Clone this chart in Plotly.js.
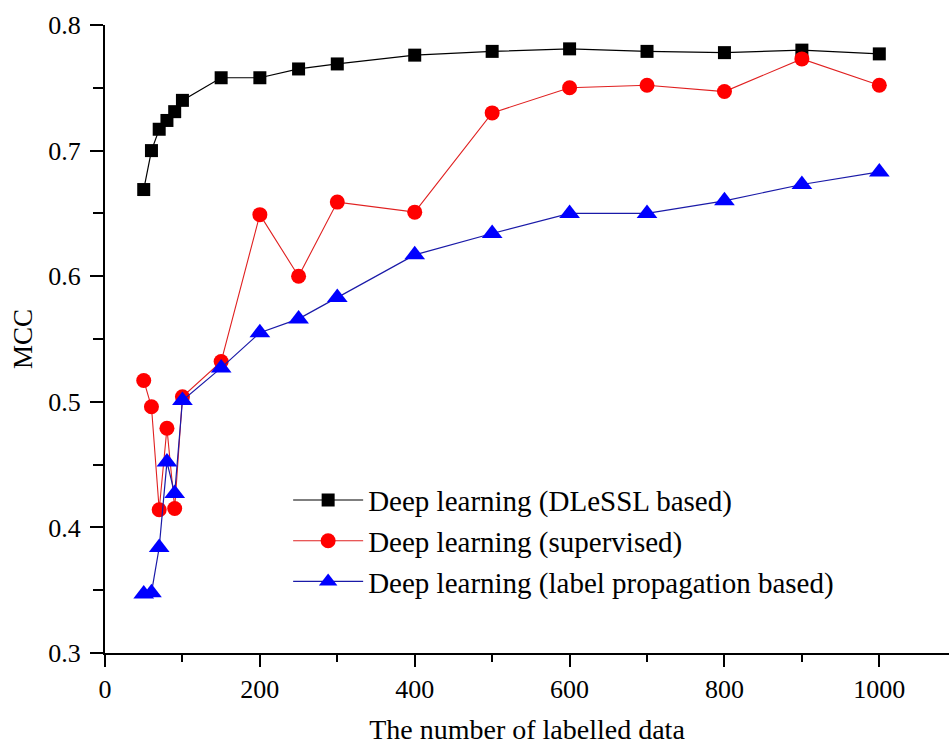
<!DOCTYPE html>
<html>
<head>
<meta charset="utf-8">
<script src="https://cdn.plot.ly/plotly-3.0.1.min.js"></script>
<style>html,body{margin:0;padding:0;background:#fff;}#chart{width:951px;height:745px;}</style>
</head>
<body>
<div id="chart"></div>
<script>
const xValues = [50, 60, 70, 80, 90, 100, 150, 200, 250, 300, 400, 500, 600, 700, 800, 900, 1000];
const dlesslMCC = [0.669, 0.700, 0.717, 0.724, 0.731, 0.740, 0.758, 0.758, 0.765, 0.769, 0.776, 0.779, 0.781, 0.779, 0.778, 0.780, 0.777];
const supervisedMCC = [0.517, 0.496, 0.414, 0.479, 0.415, 0.504, 0.532, 0.649, 0.600, 0.659, 0.651, 0.730, 0.750, 0.752, 0.747, 0.773, 0.752];
const labelPropMCC = [0.347, 0.348, 0.384, 0.452, 0.427, 0.501, 0.527, 0.555, 0.566, 0.583, 0.617, 0.634, 0.650, 0.650, 0.660, 0.673, 0.683];
const seriesNames = ["Deep learning (DLeSSL based)", "Deep learning (supervised)", "Deep learning (label propagation based)"];
const xTickVals = [0, 200, 400, 600, 800, 1000];
const yTickVals = [0.3, 0.4, 0.5, 0.6, 0.7, 0.8];

const serif = "Liberation Serif, Times New Roman, serif";

const traces = [
  {x: xValues, y: dlesslMCC, name: seriesNames[0], mode: "lines+markers",
   line: {color: "#000000", width: 1.2},
   marker: {symbol: "square", size: 13, color: "#000000"}},
  {x: xValues, y: supervisedMCC, name: seriesNames[1], mode: "lines+markers",
   line: {color: "#e02020", width: 1.1},
   marker: {symbol: "circle", size: 15, color: "#ff0000"}},
  {x: xValues, y: labelPropMCC, name: seriesNames[2], mode: "lines+markers",
   line: {color: "#1a1aa8", width: 1.2},
   marker: {symbol: "triangle-up", size: 18, color: "#0000ff"}}
];

const layout = {
  width: 951, height: 745,
  margin: {l: 105, r: 2, t: 25, b: 92},
  paper_bgcolor: "#fff", plot_bgcolor: "#fff",
  showlegend: true,
  legend: {x: 0.217, y: 0.284, xanchor: "left", yanchor: "top",
           font: {family: serif, size: 29, color: "#000"},
           bgcolor: "rgba(0,0,0,0)", itemwidth: 70, tracegroupgap: 0},
  xaxis: {
    range: [0, 1090], showgrid: false, zeroline: false,
    showline: true, linecolor: "#000", linewidth: 2,
    tickmode: "array", tickvals: xTickVals, ticktext: xTickVals.map(String),
    ticks: "outside", ticklen: 12, tickwidth: 2, tickcolor: "#000",
    minor: {dtick: 100, tick0: 0, ticks: "outside", ticklen: 7, tickwidth: 2, tickcolor: "#000", showgrid: false},
    tickfont: {family: serif, size: 26, color: "#000"},
    title: {text: "The number of labelled data", font: {family: serif, size: 28, color: "#000"}, standoff: 16}
  },
  yaxis: {
    range: [0.3, 0.8], showgrid: false, zeroline: false,
    showline: true, linecolor: "#000", linewidth: 2,
    tickmode: "array", tickvals: yTickVals, ticktext: yTickVals.map(v => v.toFixed(1)),
    ticks: "outside", ticklen: 13, tickwidth: 2, tickcolor: "#000", ticklabelstandoff: 4,
    minor: {dtick: 0.05, tick0: 0.3, ticks: "outside", ticklen: 10, tickwidth: 2, tickcolor: "#000", showgrid: false},
    tickfont: {family: serif, size: 26, color: "#000"},
    title: {text: "MCC", font: {family: serif, size: 27, color: "#000"}, standoff: 8}
  }
};

Plotly.newPlot("chart", traces, layout, {displayModeBar: false, staticPlot: true});
</script>
</body>
</html>
